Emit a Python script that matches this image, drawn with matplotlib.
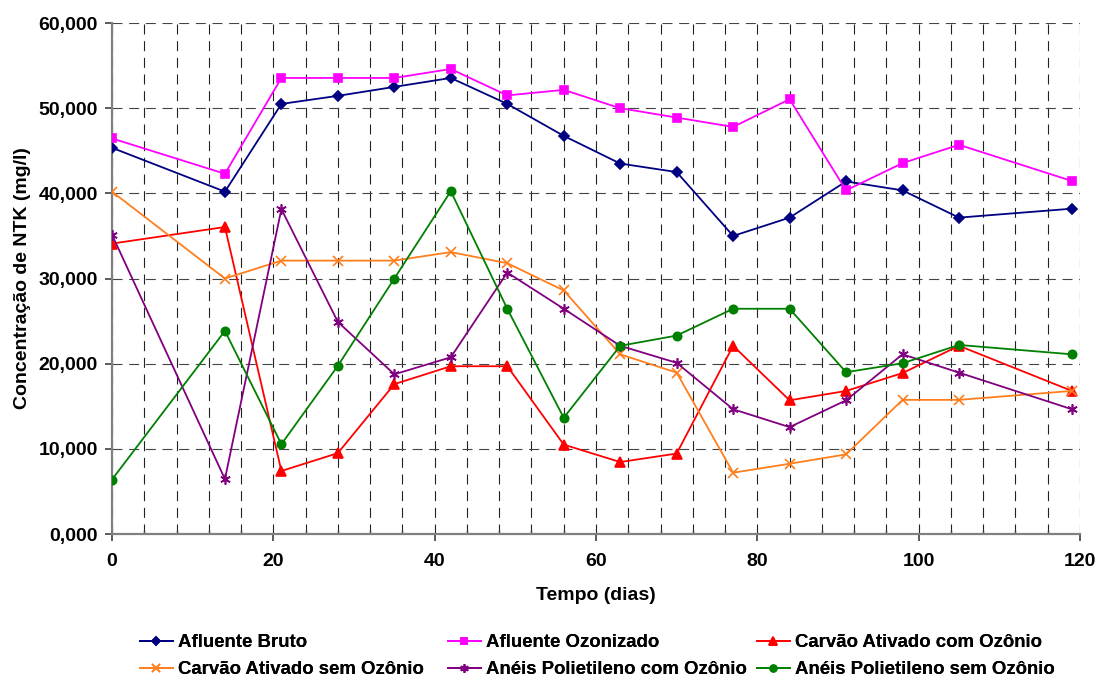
import matplotlib
matplotlib.use("Agg")
import matplotlib.pyplot as plt
from matplotlib.ticker import MultipleLocator, FuncFormatter

plt.rcParams['font.family'] = ['Liberation Sans', 'DejaVu Sans']
plt.rcParams['font.weight'] = 'bold'

# tempo de coleta (dias)
dias = [0, 14, 21, 28, 35, 42, 49, 56, 63, 70, 77, 84, 91, 98, 105, 119]

# NTK (mg/l)
afluente_bruto = [45.35, 40.2, 50.5, 51.45, 52.5, 53.55, 50.5, 46.75,
                  43.5, 42.5, 35.0, 37.15, 41.4, 40.35, 37.15, 38.2]
afluente_ozonizado = [46.45, 42.3, 53.55, 53.55, 53.55, 54.6, 51.5, 52.15,
                      50.0, 48.9, 47.8, 51.05, 40.35, 43.55, 45.7, 41.45]
carvao_com_oz = [34.1, 36.05, 7.4, 9.5, 17.6, 19.7, 19.7, 10.5,
                 8.45, 9.45, 22.1, 15.7, 16.8, 18.9, 22.1, 16.8]
carvao_sem_oz = [40.2, 30.0, 32.1, 32.1, 32.1, 33.1, 31.8, 28.6,
                 21.1, 18.95, 7.2, 8.25, 9.35, 15.75, 15.75, 16.8]
aneis_com_oz = [35.15, 6.45, 38.15, 24.9, 18.75, 20.75, 30.7, 26.45,
                22.1, 20.1, 14.65, 12.55, 15.7, 21.1, 18.95, 14.65]
aneis_sem_oz = [6.4, 23.85, 10.55, 19.75, 30.0, 40.25, 26.45, 13.65,
                22.1, 23.3, 26.45, 26.45, 19.0, 20.05, 22.2, 21.1]

series = [
    ("Afluente Bruto", afluente_bruto, '#000080', 'D', 5.0),
    ("Afluente Ozonizado", afluente_ozonizado, '#FF00FF', 's', 6.0),
    ("Carvão Ativado com Ozônio", carvao_com_oz, '#FF0000', '^', 6.5),
    ("Carvão Ativado sem Ozônio", carvao_sem_oz, '#FF7F1E', 'x', 6.5),
    ("Anéis Polietileno com Ozônio", aneis_com_oz, '#800080', (6, 2, 0), 7.5),
    ("Anéis Polietileno sem Ozônio", aneis_sem_oz, '#008000', 'o', 6.0),
]

fig = plt.figure(figsize=(10.98, 6.77), dpi=100)
ax = fig.add_axes([0.102, 0.2112, 0.8816, 0.7548])

handles = []
for nome, vals, cor, mk, ms in series:
    h, = ax.plot(dias, vals, color=cor, marker=mk, markersize=ms,
                 markeredgewidth=1.2, linewidth=1.3, label=nome, zorder=3)
    handles.append(h)

ax.set_xlim(0, 120)
ax.set_ylim(0, 60)
ax.xaxis.set_major_locator(MultipleLocator(20))
ax.xaxis.set_minor_locator(MultipleLocator(4))
ax.yaxis.set_major_locator(MultipleLocator(10))
ax.yaxis.set_major_formatter(FuncFormatter(lambda v, p: f"{v:.3f}".replace('.', ',')))

# grade tracejada
tracejado = (0, (9, 6))
ax.grid(True, axis='x', which='both', color='#222222', linestyle=tracejado, linewidth=0.8)
ax.grid(True, axis='y', which='major', color='#444444', linestyle=tracejado, linewidth=0.8)
ax.set_axisbelow(True)

for lado in ('top', 'right'):
    ax.spines[lado].set_visible(False)
for lado in ('left', 'bottom'):
    ax.spines[lado].set_color('#808080')
    ax.spines[lado].set_linewidth(1.6)

ax.tick_params(axis='both', which='major', labelsize=14, length=5, width=1.2,
               color='#404040', direction='out')
ax.tick_params(axis='x', which='major', pad=9)
ax.tick_params(axis='y', which='major', pad=5)
ax.tick_params(axis='x', which='minor', length=3, width=1.0, color='#404040', direction='in')
for t in ax.get_xticklabels() + ax.get_yticklabels():
    t.set_fontweight('bold')

ax.set_xlabel("Tempo (dias)", fontsize=14, fontweight='bold', va='center')
ax.xaxis.set_label_coords(0.5, -0.121)
ax.set_ylabel("Concentração de NTK (mg/l)", fontsize=14, fontweight='bold', va='center')
ax.yaxis.set_label_coords(-0.092, 0.5)

# legenda em tres colunas, duas entradas por coluna
colunas = [[0, 3], [1, 4], [2, 5]]
x_colunas = [0.1275, 0.408, 0.6895]
for idx, xc in zip(colunas, x_colunas):
    leg = fig.legend([handles[i] for i in idx], [series[i][0] for i in idx],
                     loc='upper left', bbox_to_anchor=(xc, 0.0635), ncol=1,
                     frameon=False, numpoints=1, markerscale=0.8,
                     handlelength=1.75, handletextpad=0.3,
                     labelspacing=0.55, borderpad=0, borderaxespad=0,
                     prop={'weight': 'bold', 'size': 13.4})
    fig.add_artist(leg)

fig.savefig("out.png", dpi=100)
